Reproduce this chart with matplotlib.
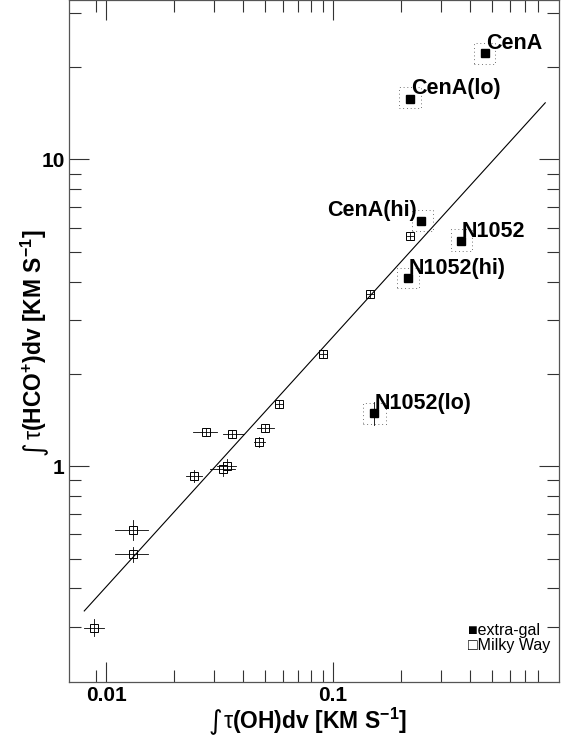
import matplotlib
matplotlib.use("Agg")
from matplotlib import pyplot as plt

plt.rcParams['font.family'] = ['Liberation Sans', 'DejaVu Sans']
plt.rcParams['mathtext.fontset'] = 'custom'
plt.rcParams['mathtext.rm'] = 'Liberation Sans'
plt.rcParams['mathtext.it'] = 'Liberation Sans'
plt.rcParams['mathtext.bf'] = 'Liberation Sans:bold'

# Milky Way sources (open squares with error bars)
mw_x = [0.0132, 0.0132, 0.00888, 0.0245, 0.0276, 0.0360, 0.0472, 0.0502,
        0.0327, 0.0342, 0.0580, 0.0901, 0.1456, 0.218]
mw_y = [0.618, 0.516, 0.298, 0.930, 1.294, 1.278, 1.200, 1.337,
        0.978, 1.005, 1.601, 2.318, 3.646, 5.62]
mw_xlo = [0.01095, 0.01095, 0.00802, 0.02251, 0.0241, 0.0329, 0.0449, 0.0461,
          0.0287, 0.0308, 0.0555, 0.0865, 0.1398, 0.2118]
mw_xhi = [0.01536, 0.01536, 0.00983, 0.0264, 0.0309, 0.0405, 0.0502, 0.0550,
          0.0370, 0.0374, 0.0604, 0.0938, 0.1516, 0.2251]
mw_ylo = [0.574, 0.488, 0.279, 0.889, 1.253, 1.240, 1.156, 1.294,
          0.928, 0.956, 1.554, 2.25, 3.538, 5.50]
mw_yhi = [0.667, 0.546, 0.3186, 0.9755, 1.330, 1.310, 1.246, 1.378,
          1.030, 1.054, 1.650, 2.389, 3.757, 5.751]

# extra-galactic sources (filled squares, dotted uncertainty boxes)
ext_names = ['CenA', 'CenA(lo)', 'CenA(hi)', 'N1052', 'N1052(hi)', 'N1052(lo)']
ext_x = [0.469, 0.2184, 0.2433, 0.3652, 0.2147, 0.1516]
ext_y = [22.2, 15.8, 6.306, 5.428, 4.093, 1.492]
ext_xlo = [0.4195, 0.196, 0.2222, 0.331, 0.1908, 0.1351]
ext_xhi = [0.517, 0.2433, 0.2749, 0.4083, 0.240, 0.1712]
ext_ylo = [20.45, 14.67, 5.85, 5.035, 3.797, 1.378]
ext_yhi = [23.99, 17.17, 6.834, 5.913, 4.412, 1.609]

# fitted relation, end points
fit_x = [0.00802, 0.861]
fit_y = [0.3375, 15.3]

W, H = 561, 742
fig = plt.figure(figsize=(W/100, H/100), dpi=100)
ax = fig.add_axes([69/W, 60/H, 490.3/W, 682/H])
ax.set_xscale('log')
ax.set_yscale('log')

ax.plot(fit_x, fit_y, color='k', lw=0.8)

for i in range(len(mw_x)):
    ax.plot([mw_xlo[i], mw_xhi[i]], [mw_y[i], mw_y[i]], color='k', lw=0.6)
    ax.plot([mw_x[i], mw_x[i]], [mw_ylo[i], mw_yhi[i]], color='k', lw=0.6)
ax.plot(mw_x, mw_y, ls='none', marker='s', ms=6, mfc='none', mec='k', mew=0.7)

for i in range(len(ext_x)):
    ax.plot([ext_xlo[i], ext_xhi[i], ext_xhi[i], ext_xlo[i], ext_xlo[i]],
            [ext_ylo[i], ext_ylo[i], ext_yhi[i], ext_yhi[i], ext_ylo[i]],
            color='#444444', lw=0.6, ls=(0, (1, 3.5)))
    if ext_names[i] == 'CenA(hi)':
        off, ha = (-3, 3.5), 'right'
    else:
        off, ha = (0.5, 3), 'left'
    ax.annotate(ext_names[i], (ext_x[i], ext_y[i]), xytext=off,
                textcoords='offset points', ha=ha, va='baseline',
                fontsize=15.5, fontweight='bold')
ax.plot([ext_x[5], ext_x[5]], [1.36, 1.621], color='k', lw=0.6)
ax.plot(ext_x, ext_y, ls='none', marker='s', ms=6, color='k')

ax.set_xlim(0.00687, 0.993)
ax.set_ylim(0.198, 33.1)

xminor = [0.009] + [k/100 for k in range(2, 10)] + [k/10 for k in range(2, 9)]
yminor = [k/10 for k in range(3, 10)] + list(range(2, 10)) + [20, 30]
ax.set_xticks([0.01, 0.1], ['0.01', '0.1'])
ax.set_xticks(xminor, [''] * len(xminor), minor=True)
ax.set_yticks([1, 10], ['1', '10'])
ax.set_yticks(yminor, [''] * len(yminor), minor=True)
ax.tick_params(which='both', direction='in', top=True, right=True,
               color='#333333', width=0.8, labelsize=15)
ax.tick_params(which='major', length=14.5)
ax.tick_params(which='minor', length=8.5)
ax.tick_params(axis='x', pad=3)
ax.tick_params(axis='y', pad=3)
for lab in ax.get_xticklabels() + ax.get_yticklabels():
    lab.set_fontweight('bold')
for s in ax.spines.values():
    s.set_color('#555555')
    s.set_linewidth(0.9)

# axis titles: tall integral sign + bold text
xt = r'$\tau$(OH)dv [KM S$^{\mathbf{-1}}$]'
yt = r'$\tau$(HCO$^{\mathbf{+}}$)dv [KM S$^{\mathbf{-1}}$]'
lab_kw = dict(fontsize=16.5, fontweight='bold', rotation_mode='anchor')
int_kw = dict(fontsize=19, family='DejaVu Sans', rotation_mode='anchor')

fig.text(222/W, 1 - 729/H, '∫', ha='right', va='baseline', **int_kw)
fig.text(223/W, 1 - 729/H, xt, ha='left', va='baseline', **lab_kw)
fig.text(42/W, 1 - 441/H, '∫', ha='right', va='baseline', rotation=90, **int_kw)
fig.text(42/W, 1 - 440/H, yt, ha='left', va='baseline', rotation=90, **lab_kw)

ax.text(0.813, 0.0762, '■extra-gal', transform=ax.transAxes,
        ha='left', va='center', fontsize=11.5)
ax.text(0.813, 0.0532, '□Milky Way', transform=ax.transAxes,
        ha='left', va='center', fontsize=11.5)

fig.savefig('out.png', dpi=100)
